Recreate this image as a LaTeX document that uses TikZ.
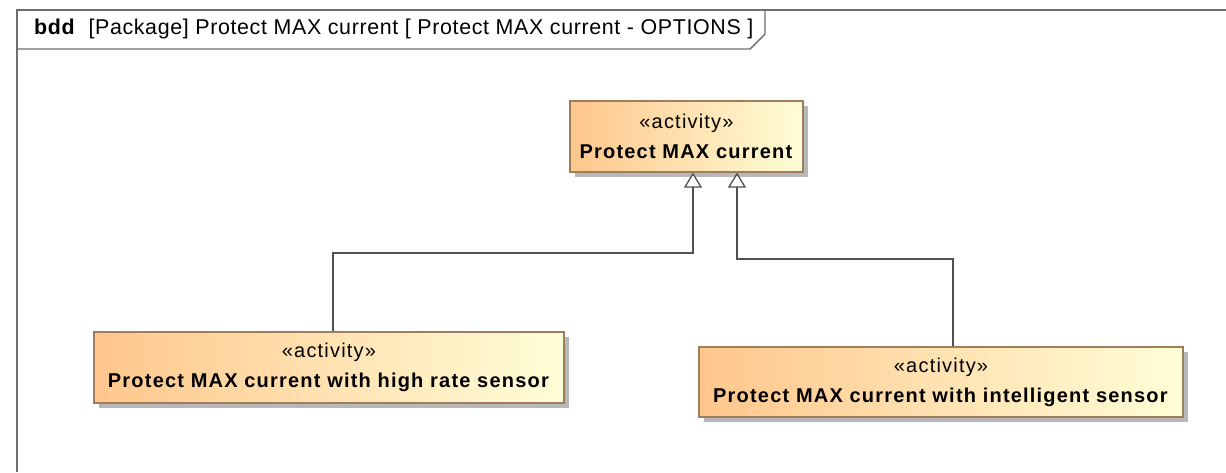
\documentclass[tikz,border=0pt]{standalone}
\usepackage{fontspec}
\setmainfont{Liberation Sans}
\newfontfamily\umlfont[LetterSpace=6]{Liberation Sans}
\newfontfamily\framefont[LetterSpace=3]{Liberation Sans}
\usetikzlibrary{arrows.meta,shadows}
\definecolor{blockleft}{RGB}{255,198,140}
\definecolor{blockright}{RGB}{255,254,215}
\definecolor{blockedge}{RGB}{160,125,95}
\definecolor{frameline}{RGB}{110,110,110}
\definecolor{wire}{RGB}{80,80,80}
\begin{document}
\begin{tikzpicture}[x=1pt,y=-1pt,
  frame/.style={draw=frameline, line width=1.4pt},
  block/.style={draw=blockedge, line width=1.2pt, left color=blockleft,
    right color=blockright, minimum height=71pt, inner sep=0pt, align=center,
    font=\umlfont\fontsize{20}{30}\selectfont,
    drop shadow={shadow xshift=5pt, shadow yshift=-5pt, fill=black!28, opacity=1}},
  gen/.style={draw=wire, line width=1.3pt,
    -{Triangle[width=18pt, length=15pt, fill=white, line width=1.3pt]}}]
\useasboundingbox (0,0) rectangle (1226,472);
\fill[white] (0,0) rectangle (1226,472);

% diagram frame with its name tab
\draw[frame] (1226,10) -- (17,10) -- (17,472);
\draw[frame] (17,49) -- (750,49) -- (765,34) -- (765,10);
\node[anchor=west, inner sep=0pt, font=\framefont\fontsize{21.4}{24}\selectfont] (hdr) at (34,29)
  {\textbf{bdd}\ \ [Package] Protect MAX current [ Protect MAX current - OPTIONS ]};

% activity blocks
\node[block, minimum width=233pt] (top) at (686.5,136.5)
  {«activity»\\\textbf{Protect MAX current}};
\node[block, minimum width=470pt] (left) at (329,367.5)
  {«activity»\\\textbf{Protect MAX current with high rate sensor}};
\node[block, minimum width=484pt, minimum height=70pt] (right) at (941,382)
  {«activity»\\\textbf{Protect MAX current with intelligent sensor}};

% generalizations
\coordinate (ja) at (333,253);
\coordinate (jb) at (693,253);
\coordinate (jc) at (953,259);
\coordinate (jd) at (737,259);
\draw[gen] (left.north -| ja) -- (ja) -- (jb) -- (top.south -| jb);
\draw[gen] (right.north -| jc) -- (jc) -- (jd) -- (top.south -| jd);
\end{tikzpicture}
\end{document}
